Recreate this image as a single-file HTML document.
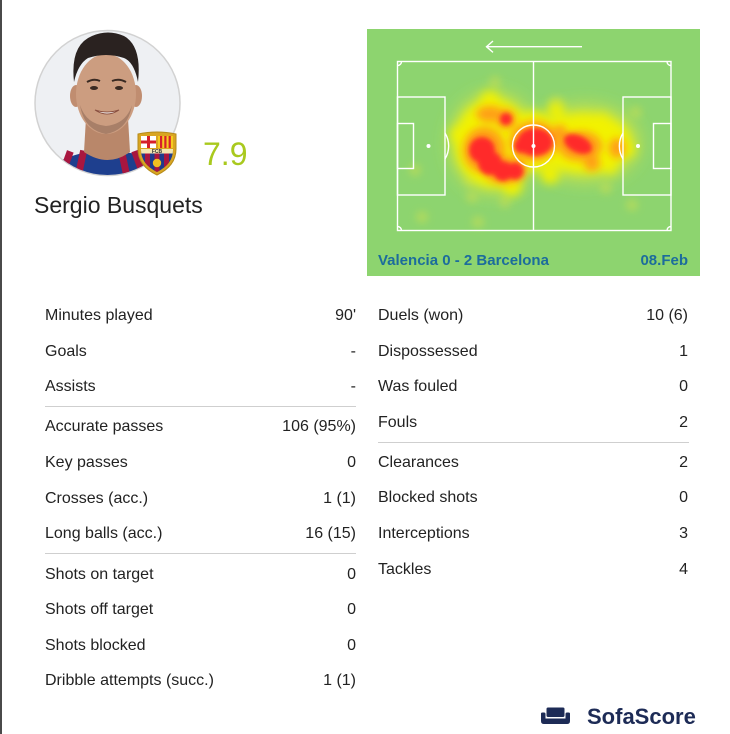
<!DOCTYPE html>
<html><head><meta charset="utf-8">
<style>
html,body{margin:0;padding:0;background:#fff;}
body{width:730px;height:734px;position:relative;overflow:hidden;font-family:"Liberation Sans",Arial,sans-serif;color:#222;}
.lb{position:absolute;left:0;top:0;width:2px;height:734px;background:#4a4a4a;}
.r{position:absolute;font-size:16px;line-height:20px;height:20px;white-space:nowrap;}
.l1{left:45px;width:311px;}
.l2{left:378px;width:310px;}
.r span{position:absolute;right:0;top:0;}
.sep{position:absolute;height:1px;background:#cfcfcf;}
.name{position:absolute;left:34px;top:191.3px;font-size:23px;line-height:28px;color:#222;white-space:nowrap;}
.rating{position:absolute;left:203px;top:135.9px;font-size:32px;line-height:36px;color:#a9c91e;}
.hm{position:absolute;left:367px;top:29px;width:333px;height:247px;background:#8dd46f;}
.ht{position:absolute;top:251.5px;font-size:15px;line-height:18px;font-weight:bold;color:#1c6c9c;white-space:nowrap;}
.logo{position:absolute;left:587px;top:703px;font-size:22px;line-height:28px;font-weight:bold;color:#1d2b56;}
</style></head>
<body>
<div class="lb"></div>

<!-- Photo -->
<svg style="position:absolute;left:0;top:0" width="200" height="190" viewBox="0 0 200 190">
  <defs>
    <clipPath id="pc"><circle cx="107.5" cy="103" r="72"/></clipPath>
    <clipPath id="bc"><path d="M4,18 L36,18 L36,19 Q36,33 20,41 Q4,33 4,19 Z"/></clipPath>
  </defs>
  <circle cx="107.5" cy="103" r="72.5" fill="#eef0f3" stroke="#d2d2d2" stroke-width="1.5"/>
  <g clip-path="url(#pc)">
    <path d="M40,180 L62,160 Q85,150 100,152 L118,152 Q140,152 160,165 L175,180 Z" fill="#1e3f8e"/>
    <g fill="#a8163f">
      <rect x="60" y="150" width="7" height="40" transform="rotate(20 63 170)"/>
      <rect x="76" y="150" width="7" height="40" transform="rotate(12 79 170)"/>
      <rect x="122" y="150" width="7" height="40" transform="rotate(-12 125 170)"/>
      <rect x="138" y="150" width="7" height="40" transform="rotate(-20 141 170)"/>
    </g>
    <path d="M86,118 L128,118 L130,152 Q108,168 84,152 Z" fill="#b9876a"/>
    <ellipse cx="76" cy="96" rx="6" ry="11" fill="#c08d70"/>
    <ellipse cx="136" cy="96" rx="6" ry="11" fill="#c08d70"/>
    <ellipse cx="106" cy="94" rx="30" ry="40" fill="#cc9d80"/>
    <path d="M74,82 Q70,45 92,36 Q108,29 124,36 Q142,46 138,82 Q134,62 124,58 Q106,52 88,58 Q78,64 74,82 Z" fill="#2a2220"/>
    <path d="M80,105 Q84,130 106,134 Q128,130 132,105 Q126,124 106,126 Q86,124 80,105 Z" fill="#8f6a58" opacity="0.6"/>
    <ellipse cx="94" cy="88" rx="4" ry="2" fill="#3a2a22"/>
    <ellipse cx="119" cy="88" rx="4" ry="2" fill="#3a2a22"/>
    <path d="M87,82 Q94,78 100,81" stroke="#3a2a22" stroke-width="2" fill="none"/>
    <path d="M112,81 Q119,78 126,82" stroke="#3a2a22" stroke-width="2" fill="none"/>
    <path d="M95,110 Q107,118 119,110 Q107,114 95,110 Z" fill="#fff" stroke="#8a5040" stroke-width="1"/>
  </g>
  <g transform="translate(137,131)">
    <path d="M1,3 Q20,-1 39,3 L39,18 Q39,35 20,44 Q1,35 1,18 Z" fill="#d9a521" stroke="#b58a1a" stroke-width="1"/>
    <rect x="4" y="5" width="15" height="12" fill="#ffffff"/>
    <rect x="10" y="5" width="3" height="12" fill="#d6202a"/>
    <rect x="4" y="9.5" width="15" height="3" fill="#d6202a"/>
    <rect x="21" y="5" width="15" height="12" fill="#f5cc20"/>
    <rect x="23" y="5" width="2.2" height="12" fill="#d6202a"/>
    <rect x="27.3" y="5" width="2.2" height="12" fill="#d6202a"/>
    <rect x="31.6" y="5" width="2.2" height="12" fill="#d6202a"/>
    <g clip-path="url(#bc)">
      <rect x="0" y="18" width="40" height="26" fill="#1f3c8c"/>
      <rect x="8" y="18" width="5" height="26" fill="#a8163f"/>
      <rect x="17.5" y="18" width="5" height="26" fill="#a8163f"/>
      <rect x="27" y="18" width="5" height="26" fill="#a8163f"/>
      <rect x="0" y="17" width="40" height="5.5" fill="#f3e6b0"/>
      <circle cx="20" cy="32" r="4.2" fill="#f0c020"/>
    </g>
    <text x="20" y="21.8" font-family="Liberation Sans, sans-serif" font-size="5" font-weight="bold" text-anchor="middle" fill="#333">FCB</text>
  </g>
</svg>
<div class="rating">7.9</div>
<div class="name">Sergio Busquets</div>

<!-- Heatmap -->
<div class="hm"></div>
<svg style="position:absolute;left:367px;top:29px" width="333" height="247" viewBox="367 29 333 247">
  <defs>
    <filter id="b8" x="-50%" y="-50%" width="200%" height="200%"><feGaussianBlur stdDeviation="8"/></filter>
    <filter id="b5" x="-50%" y="-50%" width="200%" height="200%"><feGaussianBlur stdDeviation="5"/></filter>
    <filter id="b4" x="-50%" y="-50%" width="200%" height="200%"><feGaussianBlur stdDeviation="4"/></filter>
    <filter id="b3" x="-50%" y="-50%" width="200%" height="200%"><feGaussianBlur stdDeviation="2.5"/></filter>
  </defs>
  <g fill="#bedd56" opacity="0.7" filter="url(#b4)">
    <circle cx="415" cy="170" r="6"/>
    <circle cx="472" cy="197" r="6"/>
    <circle cx="422" cy="217" r="6"/>
    <circle cx="478" cy="222" r="6"/>
    <circle cx="632" cy="205" r="6"/>
    <circle cx="495" cy="82" r="6"/>
    <circle cx="556" cy="103" r="7"/>
    <circle cx="606" cy="188" r="6"/>
    <circle cx="636" cy="112" r="6"/>
    <circle cx="505" cy="202" r="6"/>
    <circle cx="470" cy="180" r="6"/>
  </g>
  <g fill="#c4e24a" opacity="0.85" filter="url(#b8)">
    <ellipse cx="494" cy="143" rx="46" ry="52"/>
    <ellipse cx="585" cy="143" rx="56" ry="40"/>
  </g>
  <g fill="#f2f200" filter="url(#b5)">
    <ellipse cx="493" cy="143" rx="38" ry="44"/>
    <ellipse cx="533" cy="141" rx="24" ry="30"/>
    <ellipse cx="584" cy="143" rx="47" ry="30"/>
    <circle cx="490" cy="101" r="10"/>
    <circle cx="556" cy="110" r="8"/>
    <circle cx="602" cy="122" r="9"/>
    <circle cx="550" cy="175" r="9"/>
    <circle cx="610" cy="166" r="8"/>
    <circle cx="460" cy="135" r="10"/>
    <circle cx="512" cy="186" r="10"/>
    <circle cx="628" cy="150" r="7"/>
  </g>
  <g fill="#ffa018" filter="url(#b4)">
    <ellipse cx="484" cy="150" rx="21" ry="23"/>
    <ellipse cx="505" cy="170" rx="22" ry="14"/>
    <circle cx="506" cy="119" r="10"/>
    <ellipse cx="490" cy="114" rx="14" ry="8"/>
    <ellipse cx="534" cy="141" rx="24" ry="20"/>
    <ellipse cx="580" cy="146" rx="22" ry="15"/>
    <circle cx="592" cy="163" r="8"/>
    <ellipse cx="617" cy="148" rx="8" ry="10"/>
    <circle cx="560" cy="132" r="7"/>
  </g>
  <g fill="#ff2a2a" filter="url(#b3)">
    <circle cx="482" cy="150" r="13"/>
    <circle cx="490" cy="163" r="12"/>
    <circle cx="503" cy="171" r="10"/>
    <circle cx="515" cy="171" r="8.5"/>
    <circle cx="506" cy="119" r="6"/>
    <ellipse cx="535" cy="142" rx="18" ry="14"/>
    <circle cx="521" cy="146" r="7"/>
    <ellipse cx="578" cy="144" rx="15" ry="8.5" transform="rotate(25 578 144)"/>
  </g>
  <g stroke="#ffffff" stroke-width="1.4" fill="none">
    <rect x="397.5" y="61.5" width="273.5" height="169"/>
    <line x1="533.5" y1="61.5" x2="533.5" y2="230.5"/>
    <circle cx="533.5" cy="146" r="21"/>
    <rect x="397.5" y="97" width="47.5" height="98"/>
    <rect x="397.5" y="123.5" width="16" height="45"/>
    <path d="M445,133 A25,25 0 0 1 445,159"/>
    <rect x="623" y="97" width="48" height="98"/>
    <rect x="653.5" y="123.5" width="17.5" height="45"/>
    <path d="M623,133 A25,25 0 0 0 623,159"/>
    <path d="M397.5,65.5 A4,4 0 0 0 401.5,61.5"/>
    <path d="M667,61.5 A4,4 0 0 0 671,65.5"/>
    <path d="M397.5,226.5 A4,4 0 0 1 401.5,230.5"/>
    <path d="M667,230.5 A4,4 0 0 1 671,226.5"/>
    <line x1="486" y1="46.7" x2="582" y2="46.7"/>
    <polyline points="493,41 486.5,46.7 493,52.4"/>
  </g>
  <g fill="#ffffff">
    <circle cx="533.5" cy="146" r="2"/>
    <circle cx="428.5" cy="146" r="2"/>
    <circle cx="638" cy="146" r="2"/>
  </g>
</svg>
<div class="ht" style="left:378px;">Valencia 0 - 2 Barcelona</div>
<div class="ht" style="right:42px;">08.Feb</div>

<div class="r l1" style="top:306.2px">Minutes played<span>90'</span></div>
<div class="r l1" style="top:341.8px">Goals<span>-</span></div>
<div class="r l1" style="top:377.4px">Assists<span>-</span></div>
<div class="sep" style="left:45px;width:311px;top:406px"></div>
<div class="r l1" style="top:417.4px">Accurate passes<span>106 (95%)</span></div>
<div class="r l1" style="top:453px">Key passes<span>0</span></div>
<div class="r l1" style="top:488.6px">Crosses (acc.)<span>1 (1)</span></div>
<div class="r l1" style="top:524.2px">Long balls (acc.)<span>16 (15)</span></div>
<div class="sep" style="left:45px;width:311px;top:553px"></div>
<div class="r l1" style="top:564.5px">Shots on target<span>0</span></div>
<div class="r l1" style="top:600.1px">Shots off target<span>0</span></div>
<div class="r l1" style="top:635.7px">Shots blocked<span>0</span></div>
<div class="r l1" style="top:671.3px">Dribble attempts (succ.)<span>1 (1)</span></div>

<div class="r l2" style="top:306.2px">Duels (won)<span>10 (6)</span></div>
<div class="r l2" style="top:341.8px">Dispossessed<span>1</span></div>
<div class="r l2" style="top:377.4px">Was fouled<span>0</span></div>
<div class="r l2" style="top:412.8px">Fouls<span>2</span></div>
<div class="sep" style="left:378px;width:311px;top:442px"></div>
<div class="r l2" style="top:452.8px">Clearances<span>2</span></div>
<div class="r l2" style="top:488.4px">Blocked shots<span>0</span></div>
<div class="r l2" style="top:524px">Interceptions<span>3</span></div>
<div class="r l2" style="top:559.6px">Tackles<span>4</span></div>

<svg style="position:absolute;left:538px;top:703px" width="36" height="26" viewBox="538 703 36 26">
  <rect x="546.5" y="707.5" width="18" height="9.5" rx="1.5" fill="#1d2b56"/>
  <path d="M541,713.5 Q541,712.5 542.5,712.5 L544,712.5 Q545.5,712.5 545.5,714 L545.5,718.5 L565.5,718.5 L565.5,714 Q565.5,712.5 567,712.5 L568.5,712.5 Q570,712.5 570,713.5 L570,721 Q570,724 567,724 L544,724 Q541,724 541,721 Z" fill="#1d2b56"/>
</svg>
<div class="logo">SofaScore</div>
</body></html>
